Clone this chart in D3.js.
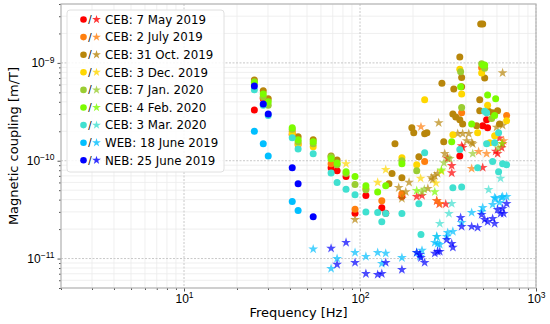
<!DOCTYPE html>
<html>
<head>
<meta charset="utf-8">
<script src="https://cdn.jsdelivr.net/npm/d3@7"></script>
<style>
  body { margin: 0; background: #fff; }
  svg { display: block; font-family: "DejaVu Sans", sans-serif; }
</style>
</head>
<body>
<div id="chart"></div>
<script>
// [frequency Hz, coupling m/T]
const may2019Dots = [[25.1,3.3e-10],[28.2,4.3e-10],[41.2,1.84e-10],[68.5,8.5e-11],[74.1,7.9e-11],[83.3,6.9e-11],[93.7,2.9e-11],[108,4.4e-11],[133,3.3e-11],[140,2.9e-11],[173,4.3e-11],[369,1.12e-10],[498,2.28e-10],[531,2.17e-10],[524,2.62e-10]];
const may2019Stars = [[210,4.3e-11],[225,4.4e-11],[273,3.9e-11],[282,3.6e-11],[307,3.6e-11],[315,1.05e-10],[332,8.9e-11],[332,7.5e-11],[378,1.42e-10],[383,1.36e-10],[498,8.5e-11],[605,1.18e-10],[638,1.36e-10],[646,1.49e-10],[620,1.7e-10],[590,1.25e-10]];
const jul2019Dots = [[28.2,4.4e-10],[41.2,1.98e-10],[44.5,1.46e-10],[68.5,9.3e-11],[93.7,3.2e-11],[133,3.9e-11],[173,4.6e-11],[233,9.8e-11],[378,3.1e-10],[491,8.9e-10],[681,2.9e-10]];
const jul2019Stars = [[222,2.22e-10],[472,1.24e-10],[524,1.18e-10],[431,8.3e-11],[284,3.64e-11],[273,3.9e-11],[655,1.6e-10]];
const oct2019Dots = [[25.1,6.7e-10],[28.2,5.2e-10],[30.1,4.3e-10],[44.5,1.76e-10],[54.2,1.64e-10],[68.5,1.12e-10],[74.1,1.02e-10],[158,1.49e-10],[146,5.8e-11],[152,7.4e-11],[173,6.7e-11],[197,2.17e-10],[202,1.93e-10],[233,1.89e-10],[240,1.93e-10],[216,1.1e-10],[292,6.2e-10],[299,1.56e-10],[341,5.4e-10],[369,1.15e-9],[378,7.1e-10],[378,5.7e-10],[337,3.0e-10],[350,2.8e-10],[369,2.62e-10],[383,2.38e-10],[485,2.5e-9],[498,2.5e-9],[511,7.0e-10],[479,4.2e-10],[479,3.24e-10],[460,2.28e-10],[538,3.2e-10],[567,3.1e-10],[605,3.24e-10],[621,2.38e-10]];
const oct2019Stars = [[93.7,2.5e-11],[646,7.9e-10],[280,2.44e-10],[359,1.89e-10],[383,1.89e-10],[415,1.89e-10],[404,1.6e-10],[431,1.53e-10],[437,1.49e-10],[303,1.18e-10],[315,1.07e-10],[190,6.0e-11],[166,5.3e-11],[182,4.8e-11],[243,5.2e-11],[259,6.4e-11],[254,6.7e-11],[266,7.0e-11],[276,7.4e-11],[173,4.1e-11],[597,2.2e-10],[646,2.3e-10]];
const dec2019Dots = [[41.2,1.89e-10],[44.5,1.49e-10],[54.2,1.39e-10],[108,5.2e-11],[173,1.07e-10],[210,9.1e-11],[233,4.2e-10],[369,8.6e-10],[378,4.8e-10],[337,1.84e-10],[491,7.9e-10],[531,3.7e-10],[681,2.56e-10],[466,1.93e-10],[545,1.53e-10],[582,1.8e-10]];
const dec2019Stars = [[83.3,9.3e-11],[126,6.0e-11],[140,8.1e-11],[221,6.6e-11],[270,5.9e-11],[290,7.8e-11]];
const jan2020Dots = [[25.1,6.4e-10],[28.2,4.5e-10],[30.1,3.7e-10],[41.2,2.1e-10],[44.5,1.56e-10],[54.2,1.49e-10],[68.5,1.1e-10],[74.1,9.1e-11],[83.3,7.4e-11],[93.7,5.7e-11],[108,5.06e-11],[173,1.0e-10],[210,7.9e-11],[373,8.1e-10],[378,3.5e-10],[491,9.8e-10],[511,8.8e-10],[560,2.7e-10]];
const jan2020Stars = [[225,4.8e-11],[324,1.05e-10],[437,1.18e-10],[232,5.1e-11],[300,9.5e-11],[610,1.35e-10]];
const feb2020Dots = [[25.1,6.25e-10],[28.2,4.8e-10],[30.1,4.0e-10],[41.2,2.17e-10],[44.5,1.64e-10],[54.2,1.56e-10],[68.5,1.05e-10],[74.1,9.5e-11],[83.3,7.7e-11],[93.7,6.9e-11],[108,5.56e-11],[126,4.8e-11],[140,5.56e-11],[173,9.3e-11],[332,1.56e-10],[373,5.7e-10],[498,9.5e-10],[511,9.5e-10],[531,4.7e-10],[590,4.3e-10],[582,2.9e-10],[431,2.38e-10]];
const feb2020Stars = [[266,4.8e-11],[210,4.94e-11],[290,8.0e-11],[640,1.5e-10]];
const mar2020Dots = [[25.1,5.3e-10],[28.2,3.7e-10],[30.1,2.9e-10],[41.2,1.72e-10],[44.5,1.32e-10],[54.2,1.18e-10],[68.5,7.5e-11],[74.1,6.0e-11],[83.3,5.1e-11],[93.7,4.5e-11],[108,3.0e-11],[126,2.95e-11],[133,2.38e-11],[140,2.88e-11],[173,2.88e-11],[216,3.64e-11],[222,1.76e-11],[233,1.21e-10],[369,1.3e-10],[337,5.3e-11],[378,5.4e-11],[466,8.5e-11],[511,3.2e-10],[524,3.1e-10],[524,1.49e-10],[567,9.8e-11],[582,1.53e-10],[613,1.93e-10],[613,7.7e-11],[646,9.3e-11],[681,9.1e-11]];
const mar2020Stars = [[320,2.88e-11],[332,3.64e-11],[284,2.28e-11],[629,6.6e-11],[538,5.06e-11],[273,1.68e-11]];
const web2019Dots = [[25.1,2.0e-10],[28.2,1.49e-10],[30.1,1.12e-10],[41.2,3.82e-11],[44.5,3.09e-11]];
const web2019Stars = [[54.2,1.25e-11],[68.5,7.9e-12],[74.1,1.0e-11],[93.7,1.15e-11],[108,1.05e-11],[126,1.15e-11],[140,1.13e-11],[133,8.9e-12],[173,1.02e-11],[210,1.15e-11],[219,1.05e-11],[225,1.21e-11],[273,1.68e-11],[266,1.46e-11],[276,1.42e-11],[284,1.39e-11],[315,1.84e-11],[337,1.89e-11],[311,1.68e-11],[378,2.33e-11],[431,2.95e-11],[491,3.02e-11],[498,3.31e-11],[567,3.56e-11],[582,4.19e-11],[621,3.73e-11],[638,4.19e-11],[681,4.29e-11],[590,4.09e-11],[646,4.29e-11]];
const neb2019Dots = [[25.1,5.8e-10],[28.2,3.8e-10],[30.1,3.0e-10],[41.2,8.5e-11],[44.5,5.8e-11],[54.2,2.68e-11]];
const neb2019Stars = [[68.5,1.27e-11],[74.1,8.7e-12],[83.3,1.46e-11],[93.7,9.1e-12],[108,7.0e-12],[126,6.85e-12],[133,7.0e-12],[140,9.1e-12],[173,7.7e-12],[210,1.15e-11],[219,1.1e-11],[222,1.02e-11],[233,9.1e-12],[266,1.13e-11],[276,1.18e-11],[284,1.18e-11],[311,1.56e-11],[332,1.42e-11],[337,1.3e-11],[373,2.62e-11],[378,2.12e-11],[431,2.12e-11],[466,2.07e-11],[491,2.81e-11],[511,2.5e-11],[531,2.38e-11],[567,2.56e-11],[582,2.28e-11],[605,3.16e-11],[646,3.24e-11],[655,2.88e-11],[629,2.88e-11],[681,3.64e-11]];

const seriesNames = ["CEB: 7 May 2019", "CEB: 2 July 2019", "CEB: 31 Oct. 2019", "CEB: 3 Dec. 2019", "CEB: 7 Jan. 2020", "CEB: 4 Feb. 2020", "CEB: 3 Mar. 2020", "WEB: 18 June 2019", "NEB: 25 June 2019"];
const seriesColors = ["#ff0000", "#ff7f0e", "#b8860b", "#ffd700", "#9acd32", "#7cfc00", "#40e0d0", "#00bfff", "#0000ff"];
const seriesDots = [may2019Dots, jul2019Dots, oct2019Dots, dec2019Dots, jan2020Dots, feb2020Dots, mar2020Dots, web2019Dots, neb2019Dots];
const seriesStars = [may2019Stars, jul2019Stars, oct2019Stars, dec2019Stars, jan2020Stars, feb2020Stars, mar2020Stars, web2019Stars, neb2019Stars];

const xDomain = [2, 1000];
const yDomain = [5e-12, 4e-9];
const xMajor = [10, 100, 1000];
const yMajor = [1e-11, 1e-10, 1e-9];

const width = 550;
const height = 324;
const margin = { top: 4, right: 14, bottom: 36, left: 61 };

const svg = d3.select("#chart").append("svg")
  .attr("width", width)
  .attr("height", height);

const x = d3.scaleLog().domain(xDomain).range([margin.left, width - margin.right]);
const y = d3.scaleLog().domain(yDomain).range([height - margin.bottom, margin.top]);

const isPow10 = (d) => Math.abs(Math.log10(d) - Math.round(Math.log10(d))) < 1e-9;
const xMinor = x.ticks().filter((d) => !isPow10(d));
const yMinor = y.ticks().filter((d) => !isPow10(d));

// grid: minor light, major dashed
const grid = svg.append("g");
grid.selectAll(".xmin").data(xMinor).join("line")
  .attr("x1", (d) => x(d)).attr("x2", (d) => x(d))
  .attr("y1", margin.top).attr("y2", height - margin.bottom)
  .attr("stroke", "#ebebeb").attr("stroke-width", 0.8);
grid.selectAll(".ymin").data(yMinor).join("line")
  .attr("x1", margin.left).attr("x2", width - margin.right)
  .attr("y1", (d) => y(d)).attr("y2", (d) => y(d))
  .attr("stroke", "#ebebeb").attr("stroke-width", 0.8);
grid.selectAll(".xmaj").data(xMajor).join("line")
  .attr("x1", (d) => x(d)).attr("x2", (d) => x(d))
  .attr("y1", margin.top).attr("y2", height - margin.bottom)
  .attr("stroke", "#c8c8c8").attr("stroke-dasharray", "2,1.5");
grid.selectAll(".ymaj").data(yMajor).join("line")
  .attr("x1", margin.left).attr("x2", width - margin.right)
  .attr("y1", (d) => y(d)).attr("y2", (d) => y(d))
  .attr("stroke", "#c8c8c8").attr("stroke-dasharray", "2,1.5");

function powLabel(text) {
  text.each(function (d) {
    const t = d3.select(this);
    const e = Math.round(Math.log10(d));
    t.text(null);
    t.append("tspan").text("10");
    t.append("tspan").attr("dy", "-0.55em").attr("font-size", "8.5px")
      .text(e < 0 ? "\u2212" + (-e) : e);
  });
}

// axes
const xAxisMaj = d3.axisBottom(x).tickValues(xMajor).tickSize(3.5).tickPadding(3);
const xAxisMin = d3.axisBottom(x).tickValues(xMinor).tickSize(2).tickFormat("");
const yAxisMaj = d3.axisLeft(y).tickValues(yMajor).tickSize(3.5).tickPadding(3);
const yAxisMin = d3.axisLeft(y).tickValues(yMinor).tickSize(2).tickFormat("");

[xAxisMaj, xAxisMin].forEach((ax) => {
  const g = svg.append("g")
    .attr("transform", `translate(0,${height - margin.bottom})`)
    .call(ax);
  g.select(".domain").remove();
  g.selectAll("line").attr("stroke", "#555");
  g.selectAll("text").attr("font-size", "12px").attr("fill", "#000");
});
[yAxisMaj, yAxisMin].forEach((ax) => {
  const g = svg.append("g")
    .attr("transform", `translate(${margin.left},0)`)
    .call(ax);
  g.select(".domain").remove();
  g.selectAll("line").attr("stroke", "#555");
  g.selectAll("text").attr("font-size", "12px").attr("fill", "#000");
});
svg.selectAll(".tick text").filter((d) => isPow10(d)).call(powLabel);

// frame
svg.append("rect")
  .attr("x", margin.left).attr("y", margin.top)
  .attr("width", width - margin.left - margin.right)
  .attr("height", height - margin.top - margin.bottom)
  .attr("fill", "none").attr("stroke", "#b5b5b5").attr("stroke-width", 1.2);

// points
const star = d3.symbol().type(d3.symbolStar).size(30);
const marks = svg.append("g");
seriesNames.forEach((name, i) => {
  marks.append("g").selectAll("circle").data(seriesDots[i]).join("circle")
    .attr("cx", (d) => x(d[0]))
    .attr("cy", (d) => y(d[1]))
    .attr("r", 3.5)
    .attr("fill", seriesColors[i]);
  marks.append("g").selectAll("path").data(seriesStars[i]).join("path")
    .attr("d", star)
    .attr("transform", (d) => `translate(${x(d[0])},${y(d[1])})`)
    .attr("fill", seriesColors[i])
    .attr("fill-opacity", 0.7);
});

// labels
svg.append("text")
  .attr("x", (margin.left + width - margin.right) / 2)
  .attr("y", 317)
  .attr("text-anchor", "middle")
  .attr("font-size", "13px")
  .text("Frequency [Hz]");
svg.append("text")
  .attr("transform", `translate(18,${(margin.top + height - margin.bottom) / 2}) rotate(-90)`)
  .attr("text-anchor", "middle")
  .attr("font-size", "13px")
  .text("Magnetic coupling [m/T]");

// legend
const legend = svg.append("g");
legend.append("rect")
  .attr("x", 67).attr("y", 10)
  .attr("width", 157).attr("height", 162)
  .attr("rx", 3)
  .attr("fill", "#fff").attr("fill-opacity", 0.85)
  .attr("stroke", "#e0e0e0");
const rows = legend.selectAll(".row").data(seriesNames).join("g")
  .attr("transform", (d, i) => `translate(0,${19.5 + i * 17.6})`);
rows.append("circle").attr("cx", 83.5).attr("cy", 0).attr("r", 3.3)
  .attr("fill", (d, i) => seriesColors[i]);
rows.append("text").attr("x", 90).attr("y", 0).attr("dy", "0.35em")
  .attr("text-anchor", "middle").attr("font-size", "10px").text("/");
rows.append("path").attr("d", d3.symbol().type(d3.symbolStar).size(24))
  .attr("transform", "translate(96.5,0)")
  .attr("fill", (d, i) => seriesColors[i]).attr("fill-opacity", 0.8);
rows.append("text").attr("x", 105).attr("y", 0).attr("dy", "0.36em")
  .attr("font-size", "11.8px").text((d) => d);
</script>
</body>
</html>
